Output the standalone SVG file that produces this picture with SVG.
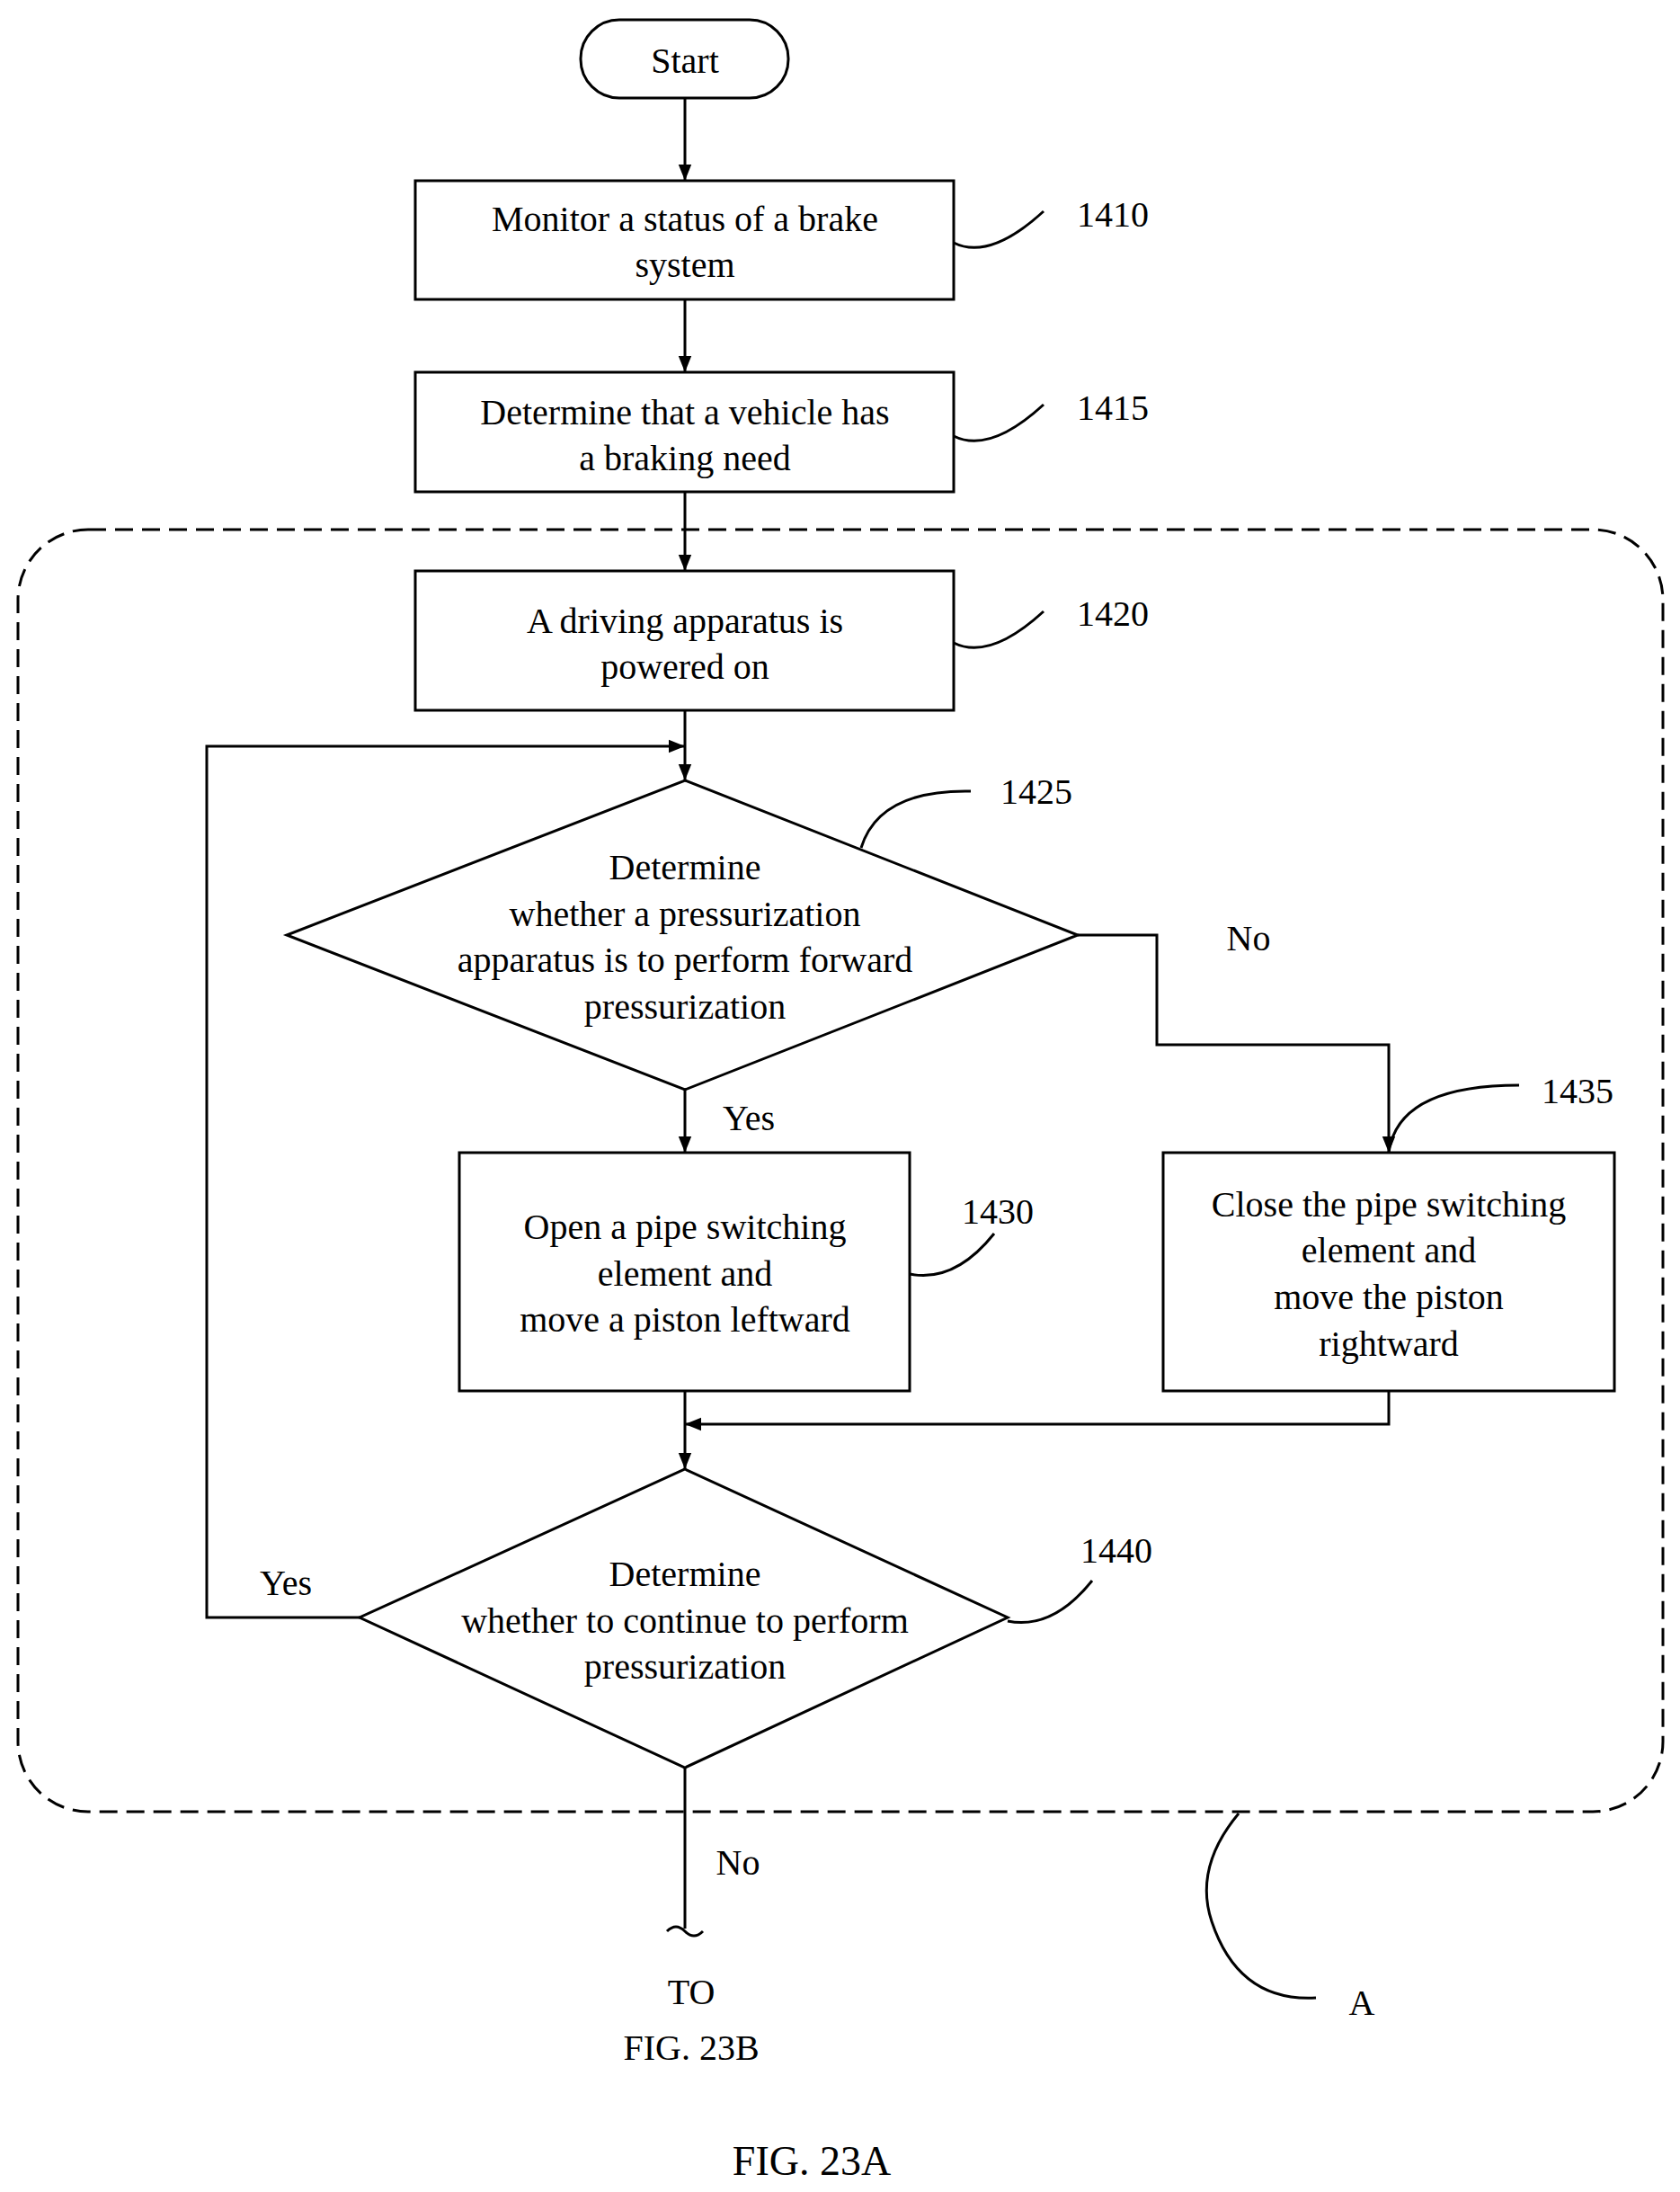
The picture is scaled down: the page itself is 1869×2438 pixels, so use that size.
<svg xmlns="http://www.w3.org/2000/svg" width="1869" height="2438" viewBox="0 0 1869 2438">
<style>
text{font-family:"Liberation Serif",serif;font-size:40px;fill:#000;text-anchor:middle;dominant-baseline:central}
.s{fill:#fff;stroke:#000;stroke-width:3}
.l{fill:none;stroke:#000;stroke-width:3}
.n{text-anchor:start}
</style>
<defs><marker id="a" viewBox="0 0 10 10" refX="10" refY="5" markerWidth="6" markerHeight="6" orient="auto"><path d="M0,1 L10,5 L0,9 z" fill="#000"/></marker></defs>
<rect x="20" y="589" width="1830" height="1426" rx="78" fill="none" stroke="#000" stroke-width="3" stroke-dasharray="20,10"/>
<g id="connectors" class="l">
<path class="l" d="M762,109V201" marker-end="url(#a)"/>
<path class="l" d="M762,333V414" marker-end="url(#a)"/>
<path class="l" d="M762,547V635" marker-end="url(#a)"/>
<path class="l" d="M762,790V868" marker-end="url(#a)"/>
<path class="l" d="M762,1212V1282" marker-end="url(#a)"/>
<path class="l" d="M1199,1040H1287V1162H1545V1282" marker-end="url(#a)"/>
<path class="l" d="M1545,1547V1584H762" marker-end="url(#a)"/>
<path class="l" d="M762,1547V1634" marker-end="url(#a)"/>
<path class="l" d="M400,1799H230V830H762" marker-end="url(#a)"/>
<path class="l" d="M762,1966V2145"/>
<path class="l" d="M742,2148q10,-10 20,0t20,0"/>
<path class="l" d="M1061,270q40,20 100,-35"/>
<path class="l" d="M1061,485q40,20 100,-35"/>
<path class="l" d="M1061,715q40,20 100,-35"/>
<path class="l" d="M958,943q20,-65 122,-63"/>
<path class="l" d="M1012,1417q50,10 94,-45"/>
<path class="l" d="M1545,1282q10,-75 145,-75"/>
<path class="l" d="M1121,1803q50,10 94,-45"/>
<path class="l" d="M1378,2017q-50,60 -30,120q30,90 116,85"/>
</g>
<g id="start"><rect class="s" x="646" y="22" width="231" height="87" rx="43"/><text x="762" y="67">Start</text></g>
<g id="n1410"><rect class="s" x="462" y="201" width="599" height="132"/><text x="762" y="243">Monitor a status of a brake</text><text x="762" y="294">system</text><text class="n" x="1198" y="238">1410</text></g>
<g id="n1415"><rect class="s" x="462" y="414" width="599" height="133"/><text x="762" y="458">Determine that a vehicle has</text><text x="762" y="509">a braking need</text><text class="n" x="1198" y="453">1415</text></g>
<g id="n1420"><rect class="s" x="462" y="635" width="599" height="155"/><text x="762" y="690">A driving apparatus is</text><text x="762" y="741">powered on</text><text class="n" x="1198" y="682">1420</text></g>
<g id="n1425"><path class="s" d="M762,868L1199,1040L762,1212L319,1040z"/><text x="762" y="964">Determine</text><text x="762" y="1016">whether a pressurization</text><text x="762" y="1067">apparatus is to perform forward</text><text x="762" y="1119">pressurization</text><text class="n" x="1113" y="880">1425</text></g>
<g id="n1430"><rect class="s" x="511" y="1282" width="501" height="265"/><text x="762" y="1364">Open a pipe switching</text><text x="762" y="1416">element and</text><text x="762" y="1467">move a piston leftward</text><text class="n" x="1070" y="1347">1430</text></g>
<g id="n1435"><rect class="s" x="1294" y="1282" width="502" height="265"/><text x="1545" y="1339">Close the pipe switching</text><text x="1545" y="1390">element and</text><text x="1545" y="1442">move the piston</text><text x="1545" y="1494">rightward</text><text class="n" x="1715" y="1213">1435</text></g>
<g id="n1440"><path class="s" d="M762,1634L1121,1799L762,1966L400,1799z"/><text x="762" y="1750">Determine</text><text x="762" y="1802">whether to continue to perform</text><text x="762" y="1853">pressurization</text><text class="n" x="1202" y="1724">1440</text></g>
<g id="labels"><text x="1389" y="1043">No</text><text x="833" y="1243">Yes</text><text x="318" y="1760">Yes</text><text x="821" y="2071">No</text><text x="769" y="2215">TO</text><text x="769" y="2277">FIG. 23B</text><text x="1515" y="2227">A</text><text x="903" y="2403" style="font-size:46px">FIG. 23A</text></g>
</svg>
